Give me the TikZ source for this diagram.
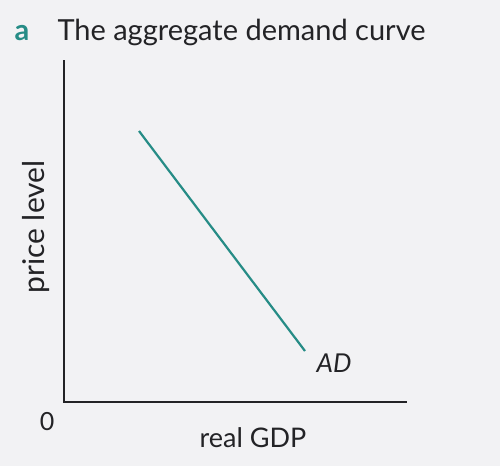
\documentclass[tikz,border=0pt]{standalone}
\usepackage{fontspec}
\setmainfont{Lato}
\definecolor{teal}{RGB}{38,140,134}
\definecolor{ink}{RGB}{35,35,38}
\definecolor{paper}{RGB}{242,242,244}

\begin{document}
\begin{tikzpicture}[x=1pt, y=-1pt]
  \fill[paper] (0,0) rectangle (500,466);
  \useasboundingbox (0,0) rectangle (500,466);
  \node[anchor=base west, font=\fontsize{29}{32}\selectfont\bfseries, color=teal] (lbl) at (11,40) {a};
  \node[anchor=base west, font=\fontsize{29}{32}\selectfont, color=ink] (title) at (54,40) {The aggregate demand curve};
  % axes
  \coordinate (top) at (64,60);
  \coordinate (origin) at (64,402);
  \coordinate (right) at (407,402);
  \draw[line width=2.4pt, ink] (top) -- (origin) -- (right);
  \node[font=\fontsize{25}{28}\selectfont, color=ink] (zero) at (47,422) {0};
  \node[font=\fontsize{30}{32}\selectfont, color=ink, rotate=90] (ylab) at (36,227) {price level};
  \node[font=\fontsize{27}{30}\selectfont, color=ink] (xlab) at (253,438) {real GDP};
  % demand curve
  \coordinate (d1) at (139,131);
  \coordinate (d2) at (305,351);
  \draw[line width=2.2pt, teal] (d1) -- (d2);
  \node[font=\fontsize{26}{28}\selectfont\itshape, color=ink] (ad) at (334,363) {AD};
\end{tikzpicture}
\end{document}
